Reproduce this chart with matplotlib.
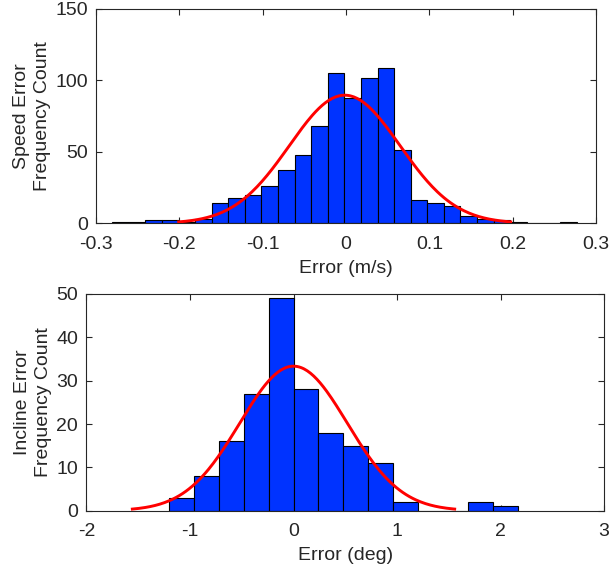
import numpy as np
import matplotlib
matplotlib.use("Agg")
import matplotlib.pyplot as plt

# speed error histogram (m/s): bin edges and counts
speed_edges = np.round(np.arange(-0.2806, 0.28, 0.0199), 4)[:29]
speed_counts = [1, 1, 2, 2, 1, 3, 14, 18, 20, 26, 37, 48, 68, 105,
                88, 102, 109, 51, 16, 14, 12, 5, 3, 2, 1, 0, 0, 1]
speed_mu, speed_sigma = -0.0016, 0.0664

# incline error histogram (deg)
incline_edges = np.round(np.arange(-1.205, 2.2, 0.241), 3)[:15]
incline_counts = [3, 8, 16, 27, 49, 28, 18, 15, 11, 2, 0, 0, 2, 1]
incline_mu, incline_sigma = 0.0, 0.519

BAR = "#0033ff"
INK = "#262626"

plt.rcParams.update({"font.family": ["Liberation Sans", "DejaVu Sans"], "font.size": 14,
                     "text.color": INK, "axes.labelcolor": INK, "xtick.color": INK, "ytick.color": INK,
                     "axes.edgecolor": INK, "axes.linewidth": 0.8})


def panel(ax, edges, counts, mu, sigma, xlim, ylim, yticks, xlabel, ylabel):
    edges = np.asarray(edges); counts = np.asarray(counts)
    w = np.diff(edges)
    ax.bar(edges[:-1], counts, width=w, align="edge", color=BAR, edgecolor="black", lw=0.8, zorder=2)
    n = counts.sum(); bw = w.mean()
    x = np.linspace(mu - 3 * sigma, mu + 3 * sigma, 200)
    y = n * bw / (sigma * np.sqrt(2 * np.pi)) * np.exp(-0.5 * ((x - mu) / sigma) ** 2)
    ax.plot(x, y, color="red", lw=2.1, zorder=3)
    ax.set_xlim(*xlim); ax.set_ylim(*ylim); ax.set_yticks(yticks)
    ax.set_xlabel(xlabel, labelpad=5); ax.set_ylabel(ylabel, linespacing=1.3, labelpad=3)
    ax.tick_params(direction="in", top=True, right=True, length=4, width=0.8)
    ax.tick_params(axis="x", pad=9)
    ax.tick_params(axis="y", pad=6)


fig = plt.figure(figsize=(6.1, 5.76), dpi=100)
ax1 = fig.add_axes([0.1574, 0.6123, 0.8197, 0.3721])
ax2 = fig.add_axes([0.1418, 0.1134, 0.8484, 0.3762])

panel(ax1, speed_edges, speed_counts, speed_mu, speed_sigma, (-0.3, 0.3), (0, 150),
      [0, 50, 100, 150], "Error (m/s)", "Speed Error\nFrequency Count")
ax1.set_xticks([-0.3, -0.2, -0.1, 0, 0.1, 0.2, 0.3])
ax1.set_xticklabels(["-0.3", "-0.2", "-0.1", "0", "0.1", "0.2", "0.3"])

panel(ax2, incline_edges, incline_counts, incline_mu, incline_sigma, (-2, 3), (0, 50),
      [0, 10, 20, 30, 40, 50], "Error (deg)", "Incline Error\nFrequency Count")
ax2.set_xticks([-2, -1, 0, 1, 2, 3])
ax2.set_xticklabels(["-2", "-1", "0", "1", "2", "3"])

fig.savefig("out.png", dpi=100)
